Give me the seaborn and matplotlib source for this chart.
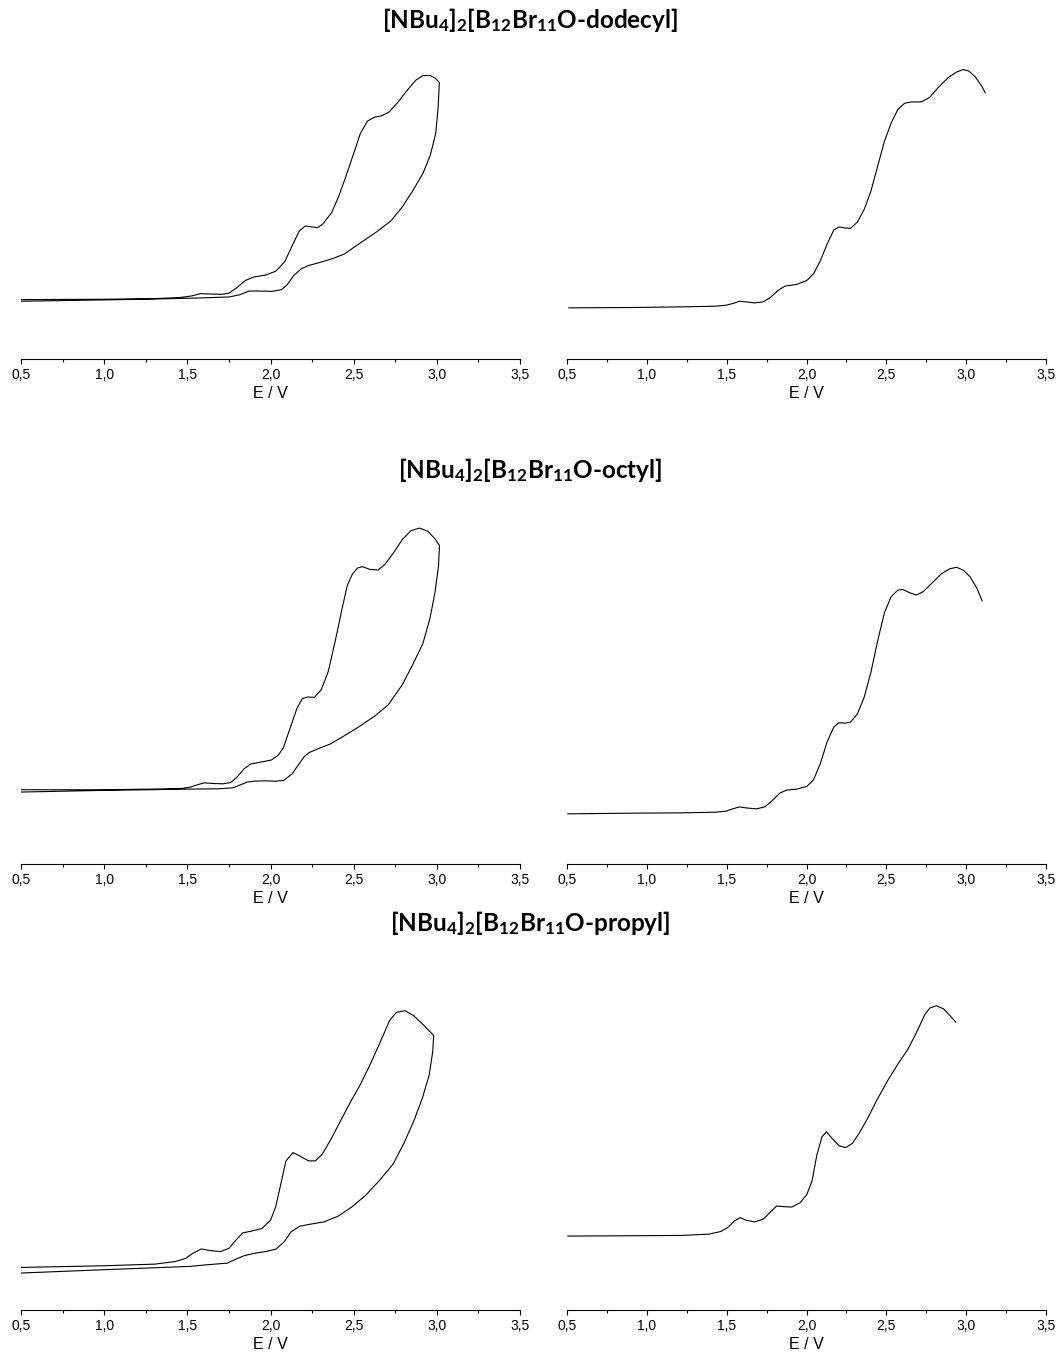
import matplotlib
matplotlib.use("Agg")
import matplotlib.pyplot as plt
import seaborn as sns
import pandas as pd
from matplotlib.ticker import MultipleLocator, FuncFormatter

# ## Data (E / V, current in arbitrary units)

# dodecyl - cyclic voltammogram (forward / reverse scan)
dodecyl_cv_fwd_v = [0.50, 1.00, 1.30, 1.45, 1.525, 1.58, 1.633, 1.709, 1.752, 1.795,
                    1.849, 1.903, 1.968, 2.032, 2.086, 2.13, 2.173, 2.209, 2.281, 2.313,
                    2.367, 2.41, 2.453, 2.497, 2.54, 2.583, 2.626, 2.669, 2.712, 2.766,
                    2.82, 2.874, 2.917, 2.961, 2.993, 3.015]
dodecyl_cv_fwd_i = [180, 181, 183, 186, 191, 198, 197, 196, 200, 215,
                    238, 249, 254, 266, 295, 343, 388, 403, 398, 408,
                    443, 493, 553, 618, 683, 721, 733, 737, 748, 778,
                    813, 845, 859, 859, 850, 838]
dodecyl_cv_rev_v = [3.015, 3.008, 2.993, 2.961, 2.917, 2.853, 2.788, 2.723, 2.637, 2.529,
                    2.443, 2.378, 2.313, 2.227, 2.184, 2.14, 2.097, 2.065, 2.011, 1.925,
                    1.871, 1.817, 1.752, 1.58, 1.234, 0.50]
dodecyl_cv_rev_i = [838, 763, 683, 618, 563, 508, 458, 418, 385, 348,
                    318, 305, 295, 283, 273, 253, 223, 210, 205, 206,
                    206, 195, 188, 185, 181, 175]

# dodecyl - linear sweep
dodecyl_lsv_v = [0.51, 0.905, 1.22, 1.43, 1.496, 1.538, 1.58, 1.622, 1.675, 1.728,
                 1.77, 1.823, 1.865, 1.939, 2.002, 2.044, 2.087, 2.129, 2.171, 2.203,
                 2.245, 2.276, 2.319, 2.361, 2.403, 2.445, 2.487, 2.53, 2.572, 2.614,
                 2.656, 2.719, 2.772, 2.825, 2.888, 2.941, 2.983, 3.015, 3.057, 3.1,
                 3.12]
dodecyl_lsv_i = [155, 156, 158, 160, 163, 168, 175, 173, 170, 173,
                 185, 208, 221, 226, 238, 258, 298, 348, 391, 400,
                 397, 396, 415, 453, 508, 583, 658, 715, 756, 775,
                 779, 779, 793, 823, 853, 870, 877, 873, 855, 825,
                 806]

# octyl - cyclic voltammogram
octyl_cv_fwd_v = [0.50, 0.99, 1.30, 1.467, 1.519, 1.56, 1.601, 1.653, 1.715, 1.761,
                  1.798, 1.84, 1.881, 1.943, 2.005, 2.047, 2.078, 2.119, 2.16, 2.191,
                  2.222, 2.264, 2.305, 2.347, 2.388, 2.43, 2.461, 2.492, 2.523, 2.554,
                  2.595, 2.647, 2.688, 2.74, 2.792, 2.844, 2.896, 2.947, 2.989, 3.016]
octyl_cv_fwd_i = [225, 225, 227, 229, 233, 240, 246, 244, 243, 247,
                  263, 288, 303, 309, 315, 330, 353, 413, 473, 501,
                  506, 505, 528, 583, 673, 773, 843, 878, 897, 901,
                  893, 891, 908, 943, 983, 1010, 1018, 1008, 985, 965]
octyl_cv_rev_v = [3.016, 3.01, 2.989, 2.958, 2.916, 2.854, 2.792, 2.709, 2.626, 2.523,
                  2.419, 2.357, 2.295, 2.233, 2.202, 2.171, 2.13, 2.078, 2.026, 1.964,
                  1.901, 1.86, 1.819, 1.777, 1.695, 1.529, 0.99, 0.50]
octyl_cv_rev_i = [965, 903, 823, 743, 668, 603, 543, 483, 448, 413,
                  381, 363, 351, 338, 325, 303, 273, 253, 251, 252,
                  251, 248, 240, 231, 228, 227, 223, 218]

# octyl - linear sweep
octyl_lsv_v = [0.504, 0.905, 1.222, 1.432, 1.496, 1.538, 1.58, 1.622, 1.686, 1.738,
               1.781, 1.833, 1.876, 1.939, 2.002, 2.044, 2.087, 2.129, 2.171, 2.203,
               2.245, 2.276, 2.319, 2.361, 2.403, 2.445, 2.487, 2.53, 2.572, 2.603,
               2.646, 2.688, 2.73, 2.783, 2.846, 2.899, 2.941, 2.983, 3.025, 3.068,
               3.1]
octyl_lsv_i = [152, 154, 155, 157, 160, 167, 173, 170, 167, 173,
               190, 215, 224, 227, 235, 255, 305, 370, 415, 428,
               427, 430, 455, 505, 580, 675, 760, 810, 830, 832,
               822, 815, 825, 850, 880, 895, 899, 890, 870, 835,
               797]

# propyl - cyclic voltammogram
propyl_cv_fwd_v = [0.50, 0.994, 1.305, 1.429, 1.492, 1.533, 1.585, 1.637, 1.699, 1.751,
                   1.792, 1.834, 1.886, 1.948, 2.0, 2.031, 2.062, 2.093, 2.135, 2.176,
                   2.228, 2.27, 2.311, 2.363, 2.425, 2.488, 2.539, 2.602, 2.664, 2.716,
                   2.757, 2.809, 2.861, 2.923, 2.981]
propyl_cv_fwd_i = [129, 134, 139, 147, 157, 172, 185, 180, 177, 187,
                   212, 234, 239, 247, 272, 312, 382, 452, 477, 467,
                   452, 452, 472, 517, 577, 637, 682, 747, 817, 877,
                   902, 907, 892, 862, 832]
propyl_cv_rev_v = [2.981, 2.975, 2.954, 2.913, 2.861, 2.799, 2.737, 2.654, 2.571, 2.488,
                   2.405, 2.322, 2.239, 2.176, 2.124, 2.083, 2.031, 1.969, 1.907, 1.844,
                   1.782, 1.741, 1.616, 1.512, 0.994, 0.50]
propyl_cv_rev_i = [832, 782, 712, 642, 572, 502, 442, 392, 347, 312,
                   284, 267, 260, 254, 237, 207, 184, 177, 172, 165,
                   152, 142, 137, 132, 122, 112]

# propyl - linear sweep
propyl_lsv_v = [0.504, 0.905, 1.222, 1.39, 1.464, 1.506, 1.549, 1.584, 1.622, 1.675,
                1.728, 1.77, 1.812, 1.865, 1.907, 1.96, 2.002, 2.034, 2.065, 2.097,
                2.125, 2.16, 2.203, 2.245, 2.287, 2.329, 2.382, 2.445, 2.508, 2.572,
                2.635, 2.688, 2.741, 2.772, 2.814, 2.857, 2.899, 2.935]
propyl_lsv_i = [224, 225, 226, 230, 238, 250, 270, 280, 272, 267,
                275, 295, 315, 313, 312, 325, 350, 390, 470, 525,
                540, 520, 498, 492, 505, 535, 580, 640, 695, 745,
                790, 840, 895, 915, 922, 913, 892, 872]

titles = [
    "[NBu$_4$]$_2$[B$_{12}$Br$_{11}$O-dodecyl]",
    "[NBu$_4$]$_2$[B$_{12}$Br$_{11}$O-octyl]",
    "[NBu$_4$]$_2$[B$_{12}$Br$_{11}$O-propyl]",
]
panels = [
    (dodecyl_cv_fwd_v + dodecyl_cv_rev_v, dodecyl_cv_fwd_i + dodecyl_cv_rev_i,
     dodecyl_lsv_v, dodecyl_lsv_i),
    (octyl_cv_fwd_v + octyl_cv_rev_v, octyl_cv_fwd_i + octyl_cv_rev_i,
     octyl_lsv_v, octyl_lsv_i),
    (propyl_cv_fwd_v + propyl_cv_rev_v, propyl_cv_fwd_i + propyl_cv_rev_i,
     propyl_lsv_v, propyl_lsv_i),
]

# ## Style

sns.set_theme(style="ticks")
plt.rcParams["font.family"] = ["Liberation Sans", "DejaVu Sans"]
plt.rcParams["mathtext.fontset"] = "custom"
plt.rcParams["mathtext.rm"] = "Lato:bold"
plt.rcParams["mathtext.it"] = "Lato:bold"
plt.rcParams["mathtext.bf"] = "Lato:bold"

W, H = 1057, 1369
fig = plt.figure(figsize=(W / 100, H / 100), dpi=100)

PX_PER_UNIT = 0.33
col_px = [(21, 520), (567, 1046)]
row_px = [(40, 359), (500, 864), (955, 1310)]
title_y = [20, 470, 923]

comma = FuncFormatter(lambda v, p: f"{v:.1f}".replace(".", ","))


def draw_panel(x0, x1, top, bottom, v, i):
    ax = fig.add_axes([x0 / W, 1 - bottom / H, (x1 - x0) / W, (bottom - top) / H])
    df = pd.DataFrame({"E": v, "I": i})
    sns.lineplot(data=df, x="E", y="I", sort=False, estimator=None,
                 color="black", lw=0.8, ax=ax)
    ax.set_xlim(0.5, 3.5)
    ax.set_ylim(0, (bottom - top) / PX_PER_UNIT)
    sns.despine(ax=ax, left=True)
    ax.yaxis.set_visible(False)
    ax.spines["bottom"].set_linewidth(0.8)
    ax.spines["bottom"].set_color("black")
    ax.xaxis.set_major_locator(MultipleLocator(0.5))
    ax.xaxis.set_minor_locator(MultipleLocator(0.25))
    ax.xaxis.set_major_formatter(comma)
    ax.tick_params(axis="x", which="major", direction="out", length=3.6, width=0.8,
                   color="black", labelsize=10, pad=3, labelcolor="black")
    ax.tick_params(axis="x", which="minor", direction="out", length=2.2, width=0.8,
                   color="black")
    ax.set_xlabel("E / V", fontsize=11.5, labelpad=3, color="black")
    ax.set_facecolor("white")
    return ax


for (top, bottom), ttl, ty, (cv_v, cv_i, lsv_v, lsv_i) in zip(row_px, titles, title_y, panels):
    draw_panel(col_px[0][0], col_px[0][1], top, bottom, cv_v, cv_i)
    draw_panel(col_px[1][0], col_px[1][1], top, bottom, lsv_v, lsv_i)
    fig.text(530 / W, 1 - ty / H, ttl, ha="center", va="center",
             fontsize=17.5, fontweight="bold", family="Lato", color="black")

fig.savefig("out.png", dpi=100, facecolor="white")
